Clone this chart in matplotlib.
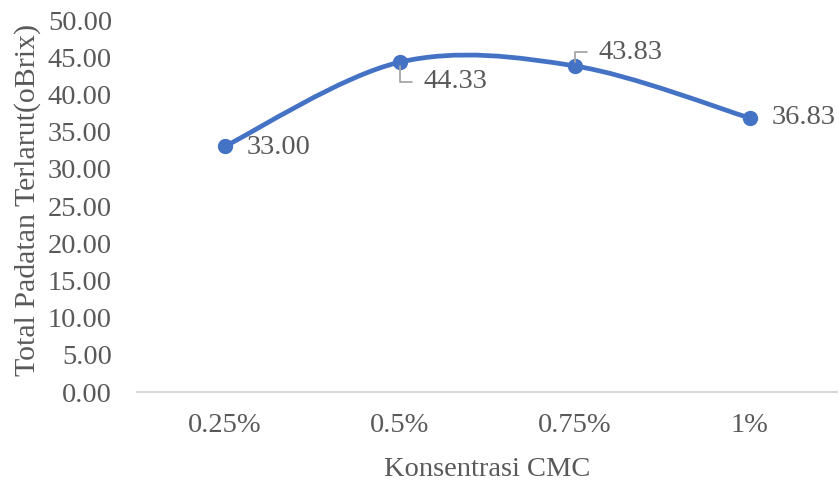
import numpy as np
import matplotlib.pyplot as plt
from matplotlib.path import Path
from matplotlib.patches import PathPatch

plt.rcParams['font.family'] = ['Liberation Serif', 'DejaVu Serif']

konsentrasi = ['0.25%', '0.5%', '0.75%', '1%']
tps = [33.00, 44.33, 43.83, 36.83]
# offset label (pt) dan apakah pakai garis penunjuk
label_off = [(16, -1), (17, -14), (17, 10), (16, 0)]
leader = [False, True, True, False]

biru = '#4472C4'
abu = '#595959'

fig = plt.figure(figsize=(8.39, 4.82), dpi=100)
ax = fig.add_axes([0.1633, 0.1867, 0.8347, 0.7718])

x = np.arange(len(tps))
y = np.array(tps)

# garis halus ala Excel (kurva Bezier Catmull-Rom)
P = np.column_stack([x, y]).astype(float)
Pe = np.vstack([P[0], P, P[-1]])
verts = [P[0]]
codes = [Path.MOVETO]
for i in range(len(P) - 1):
    p0, p1, p2, p3 = Pe[i], Pe[i + 1], Pe[i + 2], Pe[i + 3]
    c1 = p1 + (p2 - p0) / 6
    c2 = p2 - (p3 - p1) / 6
    verts += [c1, c2, p2]
    codes += [Path.CURVE4] * 3
ax.add_patch(PathPatch(Path(verts, codes), facecolor='none', edgecolor=biru,
                       lw=3.4, capstyle='round', joinstyle='round', zorder=3))
ax.plot(x, y, linestyle='none', marker='o', ms=10, color=biru, zorder=4)

for xi, yi, off, ld in zip(x, y, label_off, leader):
    arrow = None
    if ld:
        arrow = dict(arrowstyle='-', color='#A6A6A6', lw=1.3,
                     connectionstyle='angle,angleA=0,angleB=90,rad=0',
                     relpos=(0, 0.5), shrinkA=6, shrinkB=3)
    ax.annotate(f'{yi:.2f}', xy=(xi, yi), xytext=off, textcoords='offset points',
                ha='left', va='center', fontsize=20.5, color=abu,
                arrowprops=arrow, zorder=5)

ax.set_xlim(-0.5, 3.5)
ax.set_ylim(0, 50)
ax.set_yticks(np.arange(0, 50.1, 5))
ax.set_yticklabels([f'{v:.2f}' for v in np.arange(0, 50.1, 5)])
ax.set_xticks(x)
ax.set_xticklabels(konsentrasi)
ax.tick_params(axis='both', length=0, labelsize=20.5, labelcolor=abu)
ax.tick_params(axis='y', pad=18)
ax.tick_params(axis='x', pad=15)

for s in ['top', 'right', 'left']:
    ax.spines[s].set_visible(False)
ax.spines['bottom'].set_color('#D9D9D9')
ax.spines['bottom'].set_linewidth(1.5)

ax.set_xlabel('Konsentrasi CMC', fontsize=20.5, color=abu, labelpad=14)
ax.set_ylabel('Total Padatan Terlarut(oBrix)', fontsize=21.5, color=abu)
ax.yaxis.set_label_coords(-0.137, 0.515)

fig.savefig('out.png', dpi=100)
